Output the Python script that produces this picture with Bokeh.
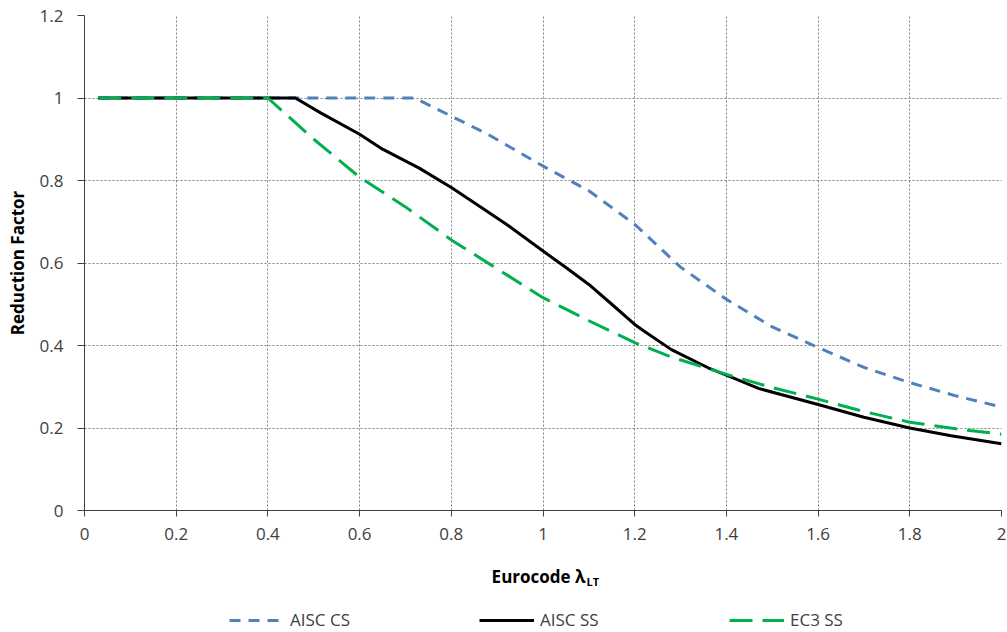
from bokeh.plotting import figure
from bokeh.models import FixedTicker, Range1d, Legend, LegendItem, Label
from bokeh.layouts import column
from bokeh.embed import file_html
from bokeh.resources import INLINE

# ---- data ----
aisc_cs_x = [0.03, 0.46, 0.72, 0.80, 0.88, 1.00, 1.10, 1.20, 1.30, 1.40, 1.50, 1.60, 1.70, 1.80, 1.90, 2.00]
aisc_cs_y = [1.00, 1.00, 1.00, 0.956, 0.912, 0.835, 0.775, 0.694, 0.590, 0.512, 0.445, 0.395, 0.347, 0.310, 0.278, 0.251]

aisc_ss_x = [0.03, 0.46, 0.515, 0.60, 0.65, 0.73, 0.80, 0.85, 0.92, 1.00, 1.05, 1.10, 1.15, 1.20, 1.22,
             1.28, 1.36, 1.40, 1.47, 1.60, 1.70, 1.80, 1.89, 2.00]
aisc_ss_y = [1.00, 1.00, 0.964, 0.912, 0.876, 0.830, 0.783, 0.746, 0.694, 0.629, 0.589, 0.548, 0.500, 0.451, 0.435,
             0.390, 0.346, 0.328, 0.296, 0.257, 0.226, 0.200, 0.181, 0.162]

ec3_ss_x = [0.03, 0.40, 0.50, 0.60, 0.70, 0.80, 0.89, 1.00, 1.10, 1.20, 1.28, 1.40, 1.50, 1.60, 1.70, 1.80, 1.90, 2.00]
ec3_ss_y = [1.00, 1.00, 0.900, 0.808, 0.736, 0.656, 0.593, 0.516, 0.460, 0.407, 0.372, 0.330, 0.298, 0.270, 0.240,
            0.214, 0.198, 0.185]

x_ticks = [0, 0.2, 0.4, 0.6, 0.8, 1, 1.2, 1.4, 1.6, 1.8, 2]
x_tick_labels = ["0", "0.2", "0.4", "0.6", "0.8", "1", "1.2", "1.4", "1.6", "1.8", "2"]
y_ticks = [0, 0.2, 0.4, 0.6, 0.8, 1, 1.2]
y_tick_labels = ["0", "0.2", "0.4", "0.6", "0.8", "1", "1.2"]

series_names = ["AISC CS", "AISC SS", "EC3 SS"]
series_colors = ["#4F81BD", "black", "#00B050"]
series_dash = ["11 8", "solid", "23 10"]
x_title = "Eurocode \u03bb"
x_title_sub = "LT"
y_title = "Reduction Factor"

FONT = "Open Sans"
TXT = "#404040"
W = 1006

# ---------------- main chart ----------------
p = figure(width=W, height=552, output_backend="svg", toolbar_location=None,
           x_range=Range1d(0, 2), y_range=Range1d(0, 1.2),
           min_border_left=84, min_border_right=5, min_border_top=15, min_border_bottom=42)
p.outline_line_color = None
p.background_fill_color = "white"
p.border_fill_color = "white"

for g in (p.xgrid, p.ygrid):
    g.grid_line_color = "#808080"
    g.grid_line_dash = "2 2"
    g.grid_line_width = 1
p.xaxis.ticker = FixedTicker(ticks=x_ticks)
p.yaxis.ticker = FixedTicker(ticks=y_ticks)
p.xgrid.ticker = FixedTicker(ticks=x_ticks)
p.ygrid.ticker = FixedTicker(ticks=y_ticks)
p.xaxis.major_label_overrides = dict(zip(x_ticks, x_tick_labels))
p.yaxis.major_label_overrides = dict(zip(y_ticks, y_tick_labels))

for ax in (p.xaxis, p.yaxis):
    ax.axis_line_color = TXT
    ax.major_tick_line_color = TXT
    ax.minor_tick_line_color = None
    ax.major_tick_in = 0
    ax.major_label_text_font = FONT
    ax.major_label_text_font_size = "17px"
    ax.major_label_text_color = TXT
    ax.axis_label_text_font = FONT
    ax.axis_label_text_font_size = "17px"
    ax.axis_label_text_font_style = "bold"
    ax.axis_label_text_color = "black"

p.xaxis.major_tick_out = 6
p.xaxis.major_label_standoff = 11
p.yaxis.major_tick_out = 7
p.yaxis.major_label_standoff = 14
p.yaxis.axis_label = y_title
p.yaxis.axis_label_standoff = 8

series = [(aisc_cs_x, aisc_cs_y), (aisc_ss_x, aisc_ss_y), (ec3_ss_x, ec3_ss_y)]
for (xs, ys), c, d in zip(series, series_colors, series_dash):
    p.line(xs, ys, line_color=c, line_width=3, line_dash=d, line_join="round")

# ---------------- strip below: x title and legend ----------------
# the strip's frame lines up with the chart's frame; its ranges are page pixels (y downward)
p2 = figure(width=W, height=79, output_backend="svg", toolbar_location=None,
            x_range=Range1d(84, 1001), y_range=Range1d(631, 552),
            x_axis_location=None, y_axis_location=None,
            min_border_left=84, min_border_right=5, min_border_top=0, min_border_bottom=0)
p2.outline_line_color = None
p2.grid.visible = False
p2.background_fill_color = "white"
p2.border_fill_color = "white"

p2.add_layout(Label(x=585, y=576, text=x_title, text_align="right", text_baseline="alphabetic",
                    text_font=FONT, text_font_size="17px", text_font_style="bold", text_color="black"))
p2.add_layout(Label(x=586, y=581, text=x_title_sub, text_align="left", text_baseline="alphabetic",
                    text_font=FONT, text_font_size="11px", text_font_style="bold", text_color="black"))

items = []
for name, c, d in zip(series_names, series_colors, series_dash):
    r = p2.line(x=[float("nan")], y=[float("nan")], line_color=c, line_width=3, line_dash=d)
    items.append(LegendItem(label=name, renderers=[r]))

lg = Legend(items=items, orientation="horizontal", location=(145, 0),
            glyph_width=55, glyph_height=14, label_height=14, label_width=189,
            label_standoff=6, spacing=0, padding=0, margin=0,
            border_line_color=None, background_fill_alpha=0,
            label_text_font=FONT, label_text_font_size="17px", label_text_color=TXT)
p2.add_layout(lg)

open("out.html", "w").write(file_html(column(p, p2, spacing=0), INLINE))
